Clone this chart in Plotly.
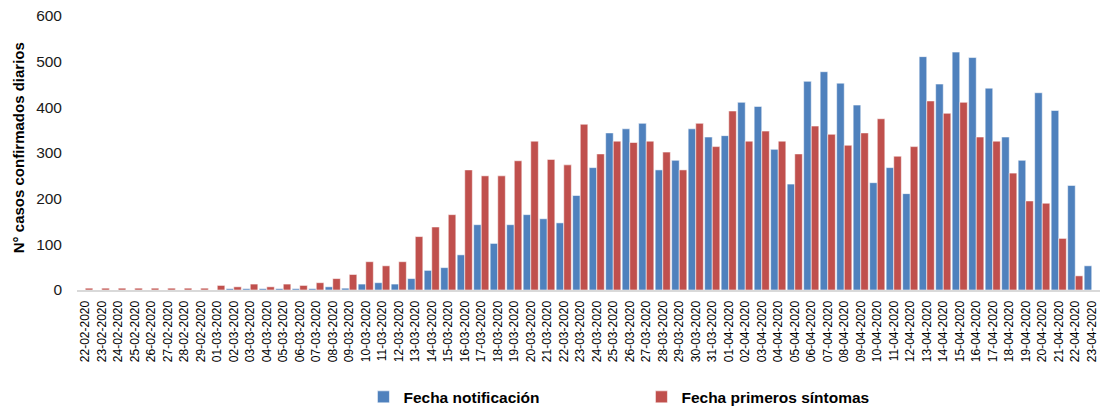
import plotly.graph_objects as go
import datetime as dt

start = dt.date(2020, 2, 22)
dates = [(start + dt.timedelta(days=i)).strftime("%d-%m-%Y") for i in range(62)]

notificacion = [0, 0, 0, 0, 0, 0, 0, 0, 0, 3, 3, 3, 3, 3, 3, 7, 4, 13, 16, 13,
                25, 43, 49, 77, 143, 102, 143, 165, 156, 147, 207, 268, 344, 353, 365, 263,
                284, 353, 335, 338, 411, 402, 308, 232, 457, 478, 453, 405, 235, 268, 211,
                511, 451, 521, 509, 442, 335, 284, 432, 393, 229, 53]

sintomas = [4, 4, 4, 4, 4, 4, 4, 4, 10, 7, 13, 7, 13, 10, 16, 25, 34, 62, 53, 62,
            117, 138, 165, 263, 250, 250, 283, 326, 286, 274, 363, 298, 326, 323, 326, 302,
            263, 365, 314, 392, 326, 348, 326, 298, 359, 341, 317, 344, 375, 293, 314,
            414, 387, 411, 335, 326, 256, 195, 190, 113, 31, 0]

font_family = "Liberation Sans"
edge = dict(color="rgba(255,255,255,0.55)", width=1)

fig = go.Figure()
fig.add_trace(go.Bar(x=dates, y=notificacion, name="Fecha notificación",
                     marker=dict(color="#4F81BD", line=edge)))
fig.add_trace(go.Bar(x=dates, y=sintomas, name="Fecha primeros síntomas",
                     marker=dict(color="#C0504D", line=edge)))

fig.update_layout(
    width=1106, height=420,
    margin=dict(l=77, r=6, t=16, b=123),
    paper_bgcolor="white", plot_bgcolor="white",
    barmode="group", bargap=0.08, bargroupgap=0.0,
    font=dict(family=font_family, color="#1a1a1a"),
    showlegend=True,
    legend=dict(orientation="h", x=0.28, xanchor="left", y=-0.3915, yanchor="middle",
                font=dict(size=15.5, weight="bold", color="#000000"),
                itemwidth=30, entrywidth=233, entrywidthmode="pixels"),
    annotations=[dict(text="N° casos confirmados diarios", textangle=-90,
                      xref="paper", yref="paper", x=-0.057, y=0.52,
                      xanchor="center", yanchor="middle", showarrow=False,
                      font=dict(size=15, weight="bold", color="#000000"))],
)
fig.update_xaxes(type="category", tickangle=-90, tickfont=dict(size=12, color="#000000"),
                 showline=True, linecolor="#d9d9d9", linewidth=2, ticks="",
                 ticklabelstandoff=4, showgrid=False, automargin=False)
fig.update_yaxes(range=[0, 600], dtick=100, tickfont=dict(size=15.5, color="#1a1a1a"),
                 showgrid=False, showline=False, zeroline=False, ticks="",
                 ticklabelstandoff=14, automargin=False)

fig.write_html("out.html", config={"displayModeBar": False},
               post_script="document.body.style.margin='0';document.body.style.overflow='hidden';")
